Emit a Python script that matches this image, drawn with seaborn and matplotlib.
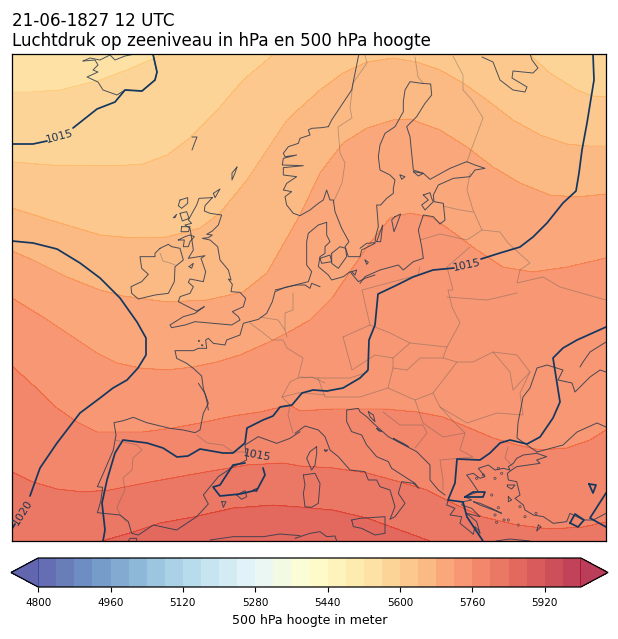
import numpy as np
import matplotlib
matplotlib.use("Agg")
import matplotlib.pyplot as plt
import seaborn as sns

# ---- data: isolines of the 500 hPa height (map pixel coordinates)
h5560 = [(12,92),(33,92),(60,90),(100,80),(127,70),(150,60),(167,52),(200,30),(300,-30),(606,-30)]
h5600 = [(12,162),(50,165),(113,166),(143,164),(167,155),(190,138),(220,107),(243,80),(273,55),(300,40),(400,25),(500,40),(530,55),(550,73),(577,90),(593,96),(606,97)]
h5640 = [(12,208),(50,220),(100,235),(133,238),(167,237),(200,228),(220,213),(247,180),(267,150),(287,120),(300,108),(320,90),(343,73),(367,62),(393,58),(417,62),(440,70),(463,83),(487,100),(513,120),(540,135),(567,144),(587,146),(606,146)]
h5680 = [(12,251),(33,260),(67,277),(100,290),(123,296),(167,302),(207,300),(243,292),(267,273),(300,215),(320,173),(343,143),(367,128),(393,120),(410,119),(440,130),(467,147),(493,167),(520,183),(550,195),(577,197),(606,194)]
h5720 = [(12,298),(43,317),(67,333),(97,353),(117,363),(140,368),(167,370),(193,367),(217,362),(240,355),(267,343),(287,333),(310,320),(332,298),(367,247),(390,218),(410,213),(433,218),(450,230),(477,250),(503,267),(533,272),(567,267),(606,258)]
h5760 = [(12,366),(33,385),(57,408),(77,422),(97,432),(113,432),(143,432),(173,428),(200,423),(233,416),(260,412),(290,405),(300,411),(333,409),(383,409),(417,412),(443,417),(467,427),(493,438),(517,445),(540,450),(567,448),(590,440),(606,430)]
h5800 = [(12,472),(33,482),(57,489),(83,492),(110,490),(150,482),(200,473),(247,465),(283,463),(300,466),(333,468),(367,473),(400,482),(427,490),(450,502),(483,517),(517,525),(550,529),(583,527),(606,522)]
h5840 = [(12,600),(60,570),(102,541),(133,532),(160,523),(193,517),(233,508),(273,505),(300,507),(333,510),(367,518),(400,530),(430,541),(480,570),(606,600)]
height_levels = [5560, 5600, 5640, 5680, 5720, 5760, 5800, 5840]
height_lines = [h5560, h5600, h5640, h5680, h5720, h5760, h5800, h5840]

# ---- data: isobars
p1015_a1 = [(12,144),(33,144),(47,141)]
p1015_a2 = [(73,128),(97,109),(115,102),(125,90),(142,91),(155,80),(157,72),(153,54)]
p_b1 = [(12,241),(33,243),(57,249),(80,263),(100,278),(120,298),(137,322),(146,338),(146,355),(138,368),(127,380),(113,388),(100,398),(80,413),(57,443),(40,468),(30,496)]
p_b2 = [(15,524),(12,529)]
p_c1 = [(593,54),(594,80),(587,123),(582,150),(579,173),(576,191),(563,203),(547,223),(533,237),(520,247),(500,253),(481,259)]
p_c2 = [(454,268),(433,270),(413,277),(397,285),(378,294),(375,325),(369,340),(368,370),(360,378),(343,388),(327,391),(313,390),(302,393),(292,405),(280,407),(273,416),(263,420),(247,428),(245,443),(233,453),(223,453),(200,449),(188,456),(177,457),(163,448),(147,443),(123,440),(115,453),(107,480),(102,503),(105,530),(103,541)]
p_d = [(263,468),(265,475),(257,490),(240,494),(220,496),(213,487),(220,485),(233,465),(245,463)]
p_e = [(606,327),(577,340),(563,348),(553,358),(560,402),(553,418),(540,437),(527,444),(510,440),(500,443),(490,453),(480,460),(457,459),(455,483),(448,500),(463,502),(467,517),(483,541)]
p_f = [(465,497),(473,492),(485,492),(483,497),(465,497)]
p_g = [(570,523),(575,514),(584,520),(578,527),(570,523)]
p_h = [(589,484),(596,485),(593,493),(589,484)]
p_i = [(606,493),(590,518),(606,527)]
isobars = [p1015_a1, p1015_a2, p_b1, p_b2, p_c1, p_c2, p_d, p_e, p_f, p_g, p_h, p_i]
isobar_labels = [("1015", 60, 136, 15), ("1020", 23, 512, 58), ("1015", 467, 265, 12), ("1015", 257, 455, -10)]

# ---- data: coastlines, each traced in a 3x crop of the picture: (crop left, crop top), points
iceland = [(83,61),(95,60),(98,65),(93,70),(98,72),(87,77),(98,82),(103,90),(117,95),(125,90),(142,91),(155,80),(157,72),(153,55)]
iceland_n = [(83,61),(90,58),(100,60),(110,55),(115,60),(125,56),(135,54)]
faroe = [(192,137),(197,137),(195,142),(192,150)]
shetland = [(237,167),(232,173),(232,180),(235,173),(237,167)]
kola = [(482,57),(493,62),(500,80),(513,90),(525,92),(527,87),(512,78),(513,71),(533,73),(538,68),(532,60),(530,54)]
black_sea = [(537,452),(563,445),(577,432),(597,423),(606,427)]
black_sea_w = [(537,452),(517,438),(518,423),(523,397),(530,388),(537,368),(547,365),(563,370),(558,380),(572,383),(575,392),(590,377),(600,370),(606,372)]
azov = [(580,367),(583,362),(590,352),(606,342)]
coast_px = [iceland, iceland_n, faroe, shetland, kola, black_sea, black_sea_w, azov]

uk_origin = (125, 185)
britain = [(262,38),(240,62),(238,78),(255,85),(290,90),(280,120),(262,138),(245,148),(262,150),(250,158),(232,160),(255,165),(278,185),(285,225),(310,255),(318,285),(310,282),(322,298),(318,320),(345,322),(362,340),(355,365),(322,380),(340,395),(345,405),(320,420),(265,415),(210,410),(180,420),(140,428),(135,420),(175,395),(210,385),(238,365),(215,378),(195,368),(160,350),(165,335),(195,325),(205,305),(190,292),(195,282),(235,290),(242,260),(228,220),(240,212),(190,220),(205,195),(200,160),(195,130),(180,120),(200,115),(190,105),(215,60),(222,40),(262,38)]
ireland = [(105,190),(130,178),(140,185),(165,190),(175,225),(150,245),(148,290),(130,325),(90,330),(40,342),(20,325),(18,305),(50,290),(70,268),(50,250),(45,215),(90,215),(90,205),(105,190)]
lewis = [(165,45),(188,38),(188,55),(170,70),(160,62),(165,45)]
skye = [(165,85),(185,80),(192,100),(172,108),(165,85)]
mull = [(170,125),(195,125),(190,140),(168,140),(170,125)]
islay = [(160,165),(180,155),(195,150),(208,155),(195,170),(190,185),(175,185),(178,165),(160,165)]
man = [(192,245),(205,235),(200,250),(192,245)]
orkney = [(265,25),(285,12),(270,38),(265,25)]
uist = [(145,98),(155,88),(150,98),(145,98)]
uk_coasts = [britain, ireland, lewis, skye, mull, islay, man, orkney, uist]

norway_origin = (275, 125)
norway = [(160,5),(140,8),(110,10),(100,15),(105,30),(75,40),(70,55),(40,65),(25,85),(30,95),(65,90),(25,100),(22,120),(85,122),(25,128),(25,150),(65,155),(35,175),(25,195),(50,200),(30,215),(35,240),(55,265),(75,272),(105,255),(130,235),(145,225),(155,195),(165,225),(175,225),(180,260),(200,310),(222,350),(210,365),(220,395),(255,395),(260,375),(300,355)]
norway_n = [(160,5),(170,-15),(190,-45),(230,-105),(252,-215)]
jutland = [(155,292),(130,300),(100,325),(95,350),(95,420),(110,440),(100,470),(60,480),(30,488),(0,495)]
jutland_e = [(155,292),(155,330),(165,350),(150,365),(150,385),(135,395),(130,425),(160,450),(170,465),(205,455),(225,440),(250,470),(270,460),(300,450)]
funen = [(135,400),(165,390),(170,410),(140,415),(135,400)]
zealand = [(170,385),(195,365),(212,370),(215,395),(190,430),(170,415),(170,385)]
bornholm = [(270,405),(280,412),(275,418),(270,405)]
rugen = [(230,440),(245,435),(240,450),(230,440)]
norway_coasts = [norway, norway_n, jutland, jutland_e, funen, zealand, bornholm, rugen]

baltic_origin = (360, 70)
baltic = [(0,535),(20,520),(45,518),(48,495),(55,470),(50,405),(62,405),(80,385),(100,370),(100,355),(105,330),(90,315),(60,300),(55,260),(60,225),(75,190),(105,170),(130,125),(130,95),(135,60),(150,35),(185,40),(212,42),(215,75),(195,100),(170,140),(140,170),(150,200),(160,300),(190,310),(210,328),(270,295),(320,275),(345,285),(375,295),(345,300),(330,320),(280,325),(235,345),(220,375),(222,395),(250,400),(255,450),(240,462),(220,440),(190,435),(175,480),(185,530),(190,565),(160,575),(130,600),(115,585),(60,600),(15,620),(0,640)]
oland = [(50,515),(68,465),(62,515),(50,515)]
gotland = [(105,440),(122,432),(110,465),(102,485),(95,450),(105,440)]
saaremaa = [(190,375),(210,368),(215,385),(220,395),(195,420),(185,405),(205,390),(190,375)]
aland = [(120,315),(135,320),(125,328),(120,315)]
aland2 = [(160,305),(175,318),(190,310),(160,305)]
baltic_coasts = [baltic, oland, gotland, saaremaa, aland, aland2]

greece_origin = (430, 445)
greece = [(55,165),(50,180),(75,190),(60,210),(95,215),(90,235),(115,255),(130,268),(135,245),(145,255),(150,265),(140,230),(110,205),(150,215),(125,190),(95,180),(100,170),(125,165),(105,155),(145,140),(125,110),(110,90),(130,85),(150,100),(165,95),(145,70),(175,60),(195,75),(220,70),(240,75),(235,65),(250,55),(260,40),(280,30),(320,25),(350,35),(320,45),(330,55),(295,60),(260,65),(245,75),(232,85),(235,105),(260,110),(265,130),(270,150),(255,160),(280,180),(285,195),(310,210),(340,215),(370,235),(410,230),(420,205),(430,210),(460,225),(490,225),(528,205)]
euboea = [(130,170),(150,175),(185,190),(215,205),(190,195),(150,180),(130,170)]
lesbos = [(232,120),(255,120),(245,132),(232,125),(232,120)]
chios = [(235,155),(245,165),(235,170),(235,155)]
rhodes = [(325,240),(333,245),(320,258),(325,240)]
crete = [(198,288),(240,282),(300,288)]
greece_coasts = [greece, euboea, lesbos, chios, rhodes, crete]
aegean_islets = [(185,150),(195,100),(215,85),(160,90),(140,100),(205,188),(235,225),(200,232),(265,240),(285,215),(318,205),(222,225),(195,210),(270,185),(205,70)]

italy_origin = (295, 400)
italy = [(0,100),(30,78),(70,90),(90,110),(105,150),(130,170),(165,210),(210,215),(220,240),(245,240),(255,260),(285,270),(300,320),(285,358),(300,350),(330,310),(310,280),(320,245),(355,250),(372,265),(360,250),(290,205),(280,185),(245,170),(215,135),(200,105),(170,95),(155,65),(155,30),(190,25),(195,35),(215,50),(235,70),(280,110),(365,155),(405,195),(405,240),(430,270),(450,285)]
sardinia = [(25,225),(60,220),(75,250),(70,310),(50,322),(30,320),(25,280),(30,255),(25,225)]
corsica = [(65,140),(45,155),(35,175),(50,210),(60,195),(65,160),(65,140)]
elba = [(88,150),(98,150),(92,155),(88,150)]
sicily = [(170,360),(195,355),(270,350),(270,400),(240,405),(200,385),(175,380),(170,360)]
africa_e = [(0,415),(45,400),(75,395),(95,410),(120,408),(125,423)]
krk = [(220,35),(235,45),(240,65),(225,50),(220,35)]
dalmatia1 = [(245,85),(260,95),(250,92),(245,85)]
dalmatia2 = [(295,115),(325,130),(340,140),(310,125),(295,115)]
italy_coasts = [italy, sardinia, corsica, elba, sicily, africa_e, krk, dalmatia1, dalmatia2]

iberia_origin = (90, 370)
iberia = [(325,40),(345,70),(355,100),(340,130),(330,180),(315,188),(280,180),(240,175),(170,158),(130,142),(100,152),(72,158),(78,195),(70,240),(40,310),(22,350),(38,352),(32,395),(22,428),(60,432),(90,435),(115,455),(125,490),(145,495),(190,465),(260,480),(320,440),(355,402),(340,375),(385,320),(430,290),(470,270),(465,225),(505,200),(560,220),(600,205),(630,185)]
mallorca = [(440,375),(465,362),(470,380),(455,388),(440,375)]
menorca = [(490,360),(500,355),(500,365),(490,360)]
ibiza = [(395,395),(408,395),(400,412),(395,395)]
africa_w = [(115,513),(120,505),(140,505),(140,513)]
africa_m = [(360,510),(430,500),(520,500),(570,492),(630,497)]
iberia_coasts = [iberia, mallorca, menorca, ibiza, africa_w, africa_m]

france_origin = (165, 280)
france = [(465,20),(440,10),(435,25),(420,15),(395,15),(360,22),(330,35),(322,65),(305,100),(280,118),(235,130),(225,165),(185,180),(180,195),(145,190),(130,175),(122,180),(125,205),(100,205),(85,212),(30,212),(35,235),(65,250),(85,265),(110,288),(115,325),(125,360),(130,390)]
channel1 = [(100,182),(104,182),(102,185),(100,182)]
channel2 = [(110,195),(114,195),(112,198),(110,195)]
france_coasts = [france, channel1, channel2]

# ---- data: borders
b_nor_swe = [(365,55),(367,63),(353,83),(350,108),(352,118),(338,127),(340,153),(345,163),(342,183),(333,203)]
b_swe_fin = [(415,57),(418,77),(423,83)]
b_fin_rus = [(453,56),(463,75),(463,90),(472,100),(483,118),(470,153),(467,162)]
b_est_rus = [(470,173),(467,190),(473,210),(482,230),(500,232),(508,243),(530,263),(520,270),(517,283),(543,277),(560,287),(606,300)]
b_baltic = [(443,206),(460,210),(473,212)]
b_lit = [(420,240),(440,234),(467,240),(482,230)]
b_pol_e = [(470,247),(447,267),(453,290),(448,290),(452,307),(460,323),(447,347)]
b_ukr_n = [(447,297),(487,300),(517,293)]
b_ger_pol = [(420,267),(418,275),(362,290),(370,325)]
b_czech = [(343,337),(370,325),(390,333),(410,343),(393,358),(375,355),(352,370),(343,337)]
b_slovak = [(410,343),(447,347),(443,358),(420,358),(407,370),(393,368),(393,358)]
b_hungary = [(393,368),(388,388),(415,400),(433,393),(457,362),(443,358)]
b_romania = [(457,362),(473,362),(493,352),(517,355),(530,372),(520,393),(523,415),(497,413),(467,423),(440,407),(433,393)]
b_austria = [(300,377),(318,378),(350,378),(368,372)]
b_alps = [(318,378),(325,397),(360,397),(388,388)]
b_balkan1 = [(415,400),(423,423),(443,437),(465,433),(455,423),(440,407)]
b_balkan2 = [(383,412),(400,425),(423,425),(427,433),(415,448)]
b_balkan3 = [(465,433),(460,450),(473,457),(440,460),(443,480),(443,490)]
b_moldova = [(493,352),(510,372),(513,390),(530,372)]
b_belgium = [(250,323),(262,332),(272,340),(283,340),(287,348),(303,358),(298,378),(290,382),(282,397),(290,405),(288,415),(293,433)]
b_ger_nl = [(293,293),(293,310),(285,313),(285,330),(287,337)]
b_nl_be = [(260,317),(278,320),(285,330)]
b_swiss = [(298,378),(312,377),(325,383)]
b_swiss2 = [(282,397),(298,393),(305,393),(325,395)]
b_pyrenees = [(197,435),(207,443),(223,445),(233,452),(247,452)]
b_portugal = [(115,440),(137,445),(142,450),(133,458),(132,470),(123,478),(125,490),(117,507),(120,515),(127,522)]
b_nireland = [(160,253),(163,261),(170,263),(175,265)]
b_turkey = [(508,447),(505,458),(513,467)]
borders = [b_nor_swe, b_swe_fin, b_fin_rus, b_est_rus, b_baltic, b_lit, b_pol_e, b_ukr_n, b_ger_pol, b_czech, b_slovak, b_hungary, b_romania, b_austria, b_alps, b_balkan1, b_balkan2, b_balkan3, b_moldova, b_belgium, b_ger_nl, b_nl_be, b_swiss, b_swiss2, b_pyrenees, b_portugal, b_nireland, b_turkey]

cbar_levels = np.arange(4800, 6001, 40)
cbar_ticks = np.arange(4800, 5921, 160)

title_text = "21-06-1827 12 UTC\nLuchtdruk op zeeniveau in hPa en 500 hPa hoogte"
cbar_label = "500 hPa hoogte in meter"

# ---- figure
sns.set_style("white")
plt.rcParams["font.family"] = ["DejaVu Sans"]
W, H = 618, 639
fig = plt.figure(figsize=(W / 100, H / 100), dpi=100)
ax = fig.add_axes([12 / W, 1 - 541 / H, 594 / W, 487 / H])

# height field built column by column from the isolines read above
xs = np.arange(12, 607, 1.0)
ys = np.arange(54, 542, 1.0)
cols = np.array([np.interp(xs, [p[0] for p in l], [p[1] for p in l]) for l in height_lines]).T
Z = np.empty((ys.size, xs.size))
for j in range(xs.size):
    Z[:, j] = np.interp(ys, np.r_[-400, cols[j], 1000], np.r_[5400, height_levels, 5950])
X, Y = np.meshgrid(xs, ys)

cmap = sns.color_palette("RdYlBu_r", as_cmap=True)
ALPHA = 0.76
cf = ax.contourf(X, Y, Z, levels=cbar_levels, cmap=cmap, alpha=ALPHA, extend="both")
ax.contour(X, Y, Z, levels=height_levels, cmap=cmap, vmin=4800, vmax=6000, linewidths=0.6, alpha=ALPHA)


def crop(origin, pts):
    """points of a 3x crop back to map pixels"""
    return [(origin[0] + x / 3, origin[1] + y / 3) for x, y in pts]


coast_lines = list(coast_px)
for origin, group in [(uk_origin, uk_coasts), (norway_origin, norway_coasts), (baltic_origin, baltic_coasts),
                      (greece_origin, greece_coasts), (italy_origin, italy_coasts), (iberia_origin, iberia_coasts),
                      (france_origin, france_coasts)]:
    coast_lines += [crop(origin, g) for g in group]

for b in borders:
    ax.plot(*zip(*b), color="#555555", lw=0.6, alpha=0.4, solid_joinstyle="round")
for c in coast_lines:
    ax.plot(*zip(*c), color="#2b3a4e", lw=0.7, alpha=0.85, solid_joinstyle="round")
ax.scatter(*zip(*crop(greece_origin, aegean_islets)), s=2.5, facecolors="none", edgecolors="#2b3a4e", linewidths=0.5, alpha=0.85)
for p in isobars:
    ax.plot(*zip(*p), color="#14375f", lw=1.25, solid_joinstyle="round")
for txt, x, y, rot in isobar_labels:
    ax.text(x, y, txt, color="#1f3550", fontsize=8, rotation=rot, ha="center", va="center",
            rotation_mode="anchor")

ax.set_xlim(12, 606)
ax.set_ylim(541, 54)
ax.set_xticks([])
ax.set_yticks([])
for s in ax.spines.values():
    s.set_visible(True)
    s.set_color("black")
    s.set_linewidth(0.9)
ax.set_title(title_text, loc="left", fontsize=12.1, pad=5.5, color="black", linespacing=1.2)

# colour bar
cax = fig.add_axes([11 / W, 1 - 587 / H, 597 / W, 29 / H])
cb = fig.colorbar(cf, cax=cax, orientation="horizontal", ticks=cbar_ticks, drawedges=False, spacing="proportional")
cb.minorticks_off()
cb.ax.tick_params(labelsize=7.5, length=3.5, width=0.8, pad=4.5, color="black", labelcolor="black", bottom=True)
cb.set_label(cbar_label, fontsize=9, color="black", labelpad=4.5)
cb.outline.set_linewidth(0.9)
cb.outline.set_edgecolor("black")

fig.savefig("out.png", dpi=100)
